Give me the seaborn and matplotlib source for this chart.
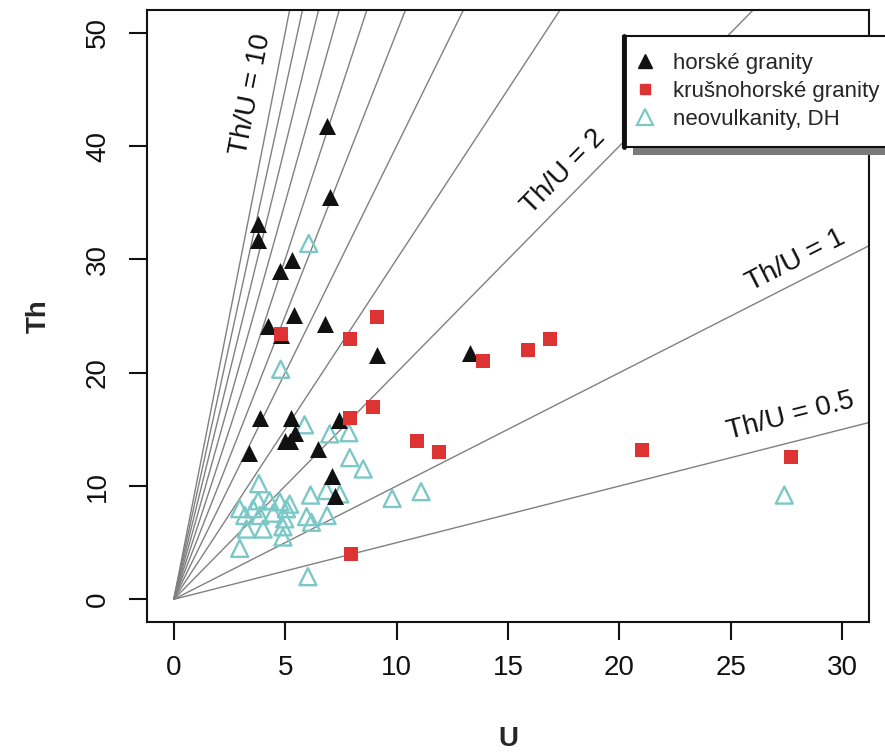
import numpy as np
import pandas as pd
import matplotlib
matplotlib.use("Agg")
import matplotlib.pyplot as plt
import seaborn as sns
from matplotlib.lines import Line2D
from matplotlib.patches import Rectangle

sns.set_style("white")
plt.rcParams['font.family'] = ['Liberation Sans', 'DejaVu Sans']

# ---- data ----
horske_U = [6.86, 7.0, 3.79, 3.76, 5.31, 4.76, 5.39, 4.25, 6.78, 9.1, 13.3, 4.83,
            3.89, 5.28, 5.44, 4.98, 5.2, 7.41, 6.47, 3.38, 7.12, 7.25]
horske_Th = [41.8, 35.5, 33.1, 31.7, 29.9, 29.0, 25.1, 24.1, 24.3, 21.6, 21.7, 23.3,
             16.0, 16.0, 14.7, 14.0, 14.0, 15.8, 13.3, 12.9, 10.9, 9.1]

krusno_U = [4.83, 7.92, 9.13, 13.9, 15.9, 16.9, 8.94, 7.92, 10.9, 11.9, 21.0, 27.7, 7.94]
krusno_Th = [23.4, 23.0, 24.9, 21.0, 22.0, 23.0, 17.0, 16.0, 14.0, 13.0, 13.2, 12.6, 4.0]

neo_U = [6.06, 4.8, 5.87, 7.0, 7.86, 7.9, 8.5, 3.82, 3.79, 4.3, 4.76, 5.2, 5.06,
         6.14, 6.85, 7.45, 9.8, 11.1, 2.96, 3.19, 3.56, 3.86, 4.46, 4.98, 5.96,
         6.18, 6.88, 3.26, 4.01, 4.9, 4.9, 2.96, 6.02, 27.4]
neo_Th = [31.4, 20.3, 15.4, 14.6, 14.7, 12.5, 11.5, 10.2, 8.7, 8.7, 8.6, 8.4, 8.0,
          9.2, 9.6, 9.3, 8.9, 9.5, 8.0, 7.4, 8.0, 7.4, 7.6, 7.1, 7.3,
          6.8, 7.4, 6.2, 6.2, 6.4, 5.5, 4.5, 2.0, 9.2]

ratios = [0.5, 1, 2, 3, 4, 5, 6, 7, 8, 9, 10]
ratio_labels = {10: (3.45, 44.6), 2: (17.5, 37.7), 1: (27.9, 29.9), 0.5: (27.7, 16.2)}

series_names = ["horské granity", "krušnohorské granity", "neovulkanity, DH"]
x_ticks = [0, 5, 10, 15, 20, 25, 30]
y_ticks = [0, 10, 20, 30, 40, 50]

BLACK = "#111111"
RED = "#dd3333"
CYAN = "#7cc8c8"
GRAY = "#808080"

df_h = pd.DataFrame({"U": horske_U, "Th": horske_Th})
df_k = pd.DataFrame({"U": krusno_U, "Th": krusno_Th})
df_n = pd.DataFrame({"U": neo_U, "Th": neo_Th})

W, H = 885, 756
fig = plt.figure(figsize=(W / 100, H / 100), dpi=100)
ax = fig.add_axes([147 / W, 1 - 622 / H, (869 - 147) / W, (622 - 10) / H])
ax.set_xlim(-1.2, 31.2)
ax.set_ylim(-2, 52)

for r in ratios:
    ax.plot([0, 40], [0, 40 * r], color=GRAY, lw=1.0, zorder=1)

sns.scatterplot(data=df_n, x="U", y="Th", marker="^", s=150, color=CYAN,
                facecolor="none", edgecolor=CYAN, linewidth=1.7, ax=ax,
                legend=False, zorder=3)
sns.scatterplot(data=df_h, x="U", y="Th", marker="^", s=150, color=BLACK,
                edgecolor=BLACK, linewidth=0, ax=ax, legend=False, zorder=4)
sns.scatterplot(data=df_k, x="U", y="Th", marker="s", s=105, color=RED,
                edgecolor=RED, linewidth=0, ax=ax, legend=False, zorder=5)

# ratio labels
fig.canvas.draw()
for r, (lx, ly) in ratio_labels.items():
    p0 = ax.transData.transform((0, 0))
    p1 = ax.transData.transform((1, r))
    ang = np.degrees(np.arctan2(p1[1] - p0[1], p1[0] - p0[0]))
    lab = f"Th/U = {r:g}"
    ax.text(lx, ly, lab, rotation=ang, rotation_mode="anchor", ha="center",
            va="center", fontsize=20, color="#111111", zorder=6)

ax.set_xticks(x_ticks)
ax.set_yticks(y_ticks)
ax.set_xticklabels([str(v) for v in x_ticks])
ax.set_yticklabels([str(v) for v in y_ticks], rotation=90, va="center")
ax.tick_params(axis="both", direction="out", length=13, width=1.5,
               labelsize=20, color="#111111", labelcolor="#111111")
ax.tick_params(axis="x", pad=11)
ax.tick_params(axis="y", pad=13)
ax.tick_params(bottom=True, left=True)
for sp in ax.spines.values():
    sp.set_visible(True)
    sp.set_color("#111111")
    sp.set_linewidth(1.5)

ax.set_xlabel("U", fontsize=20, fontweight="bold", labelpad=32)
ax.set_ylabel("Th", fontsize=20, fontweight="bold", labelpad=24)

# legend (figure level so the shadow can sit behind it)
handles = [
    Line2D([], [], ls="", marker="^", color=BLACK, markersize=9.5),
    Line2D([], [], ls="", marker="s", color=RED, markersize=7.5),
    Line2D([], [], ls="", marker="^", markerfacecolor="none",
           markeredgecolor=CYAN, markeredgewidth=1.6, markersize=11.5),
]
leg = fig.legend(handles, series_names, loc="upper left",
                 bbox_to_anchor=(623 / W, 1 - 36 / H),
                 bbox_transform=fig.transFigure, borderaxespad=0,
                 fontsize=16, frameon=True, fancybox=False,
                 edgecolor="#111111", framealpha=1, borderpad=0.75,
                 handlelength=0.48, handletextpad=1.02, labelspacing=0.32)
leg.get_frame().set_linewidth(1.5)
leg.set_zorder(10)

fig.canvas.draw()
bb = leg.get_window_extent()
x0, y0 = bb.x0, bb.y0
shadow = Rectangle((x0 + 10, y0 - 8), bb.width, bb.height,
                   transform=None, facecolor="#7a7a7a", edgecolor="none",
                   zorder=9)
fig.add_artist(shadow)
fig.add_artist(Line2D([x0 + 1, x0 + 1], [y0, y0 + bb.height], transform=None,
                      color="#111111", lw=3.5, zorder=11))

fig.savefig("out.png", dpi=100)
